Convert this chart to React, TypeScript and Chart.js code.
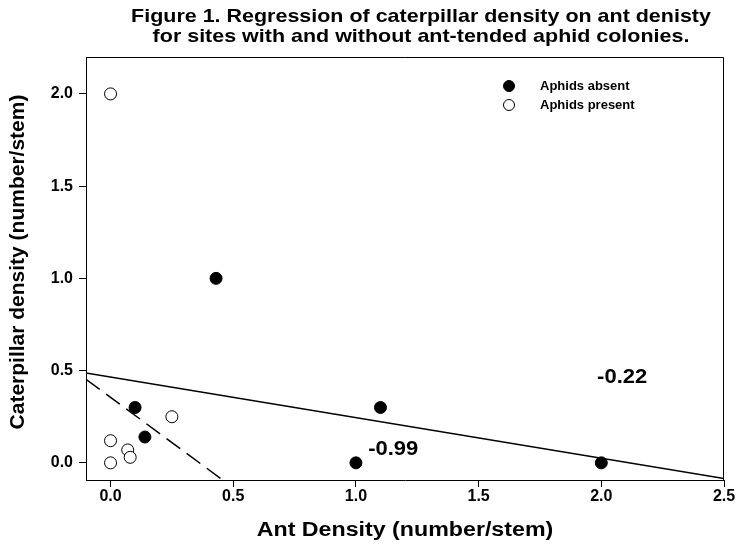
import React, { useEffect, useRef } from "react";
import { Chart, registerables } from "chart.js";

Chart.register(...registerables);

const absentX = [0.43, 0.1, 0.14, 1.1, 1.0, 2.0];
const absentY = [1.0, 0.3, 0.14, 0.3, 0.0, 0.0];
const presentX = [0.0, 0.0, 0.07, 0.08, 0.0, 0.25];
const presentY = [2.0, 0.12, 0.07, 0.03, 0.0, 0.25];

// regression lines: x extent, intercept & slope
const absentLineX = [-0.1, 2.5];
const absentIntercept = 0.465;
const absentSlope = -0.22;
const presentLineX = [-0.1, 0.48];
const presentIntercept = 0.355;
const presentSlope = -0.98;

const xTicks = [0, 0.5, 1.0, 1.5, 2.0, 2.5];
const yTicks = [0, 0.5, 1.0, 1.5, 2.0];

const labelTexts = ["-0.22", "-0.99"];
const labelX = [2.085, 1.152];
const labelY = [0.462, 0.07];

const titleLines = [
  "Figure 1. Regression of caterpillar density on ant denisty",
  "for sites with and without ant-tended aphid colonies.",
];
const legendLabels = ["Aphids absent", "Aphids present"];
const xTitle = "Ant Density (number/stem)";
const yTitle = "Caterpillar density (number/stem)";

const FONT = "Arial, 'Liberation Sans', Helvetica, sans-serif";

function drawText(ctx: any, text: string, x: number, y: number, font: string, sx: number, rot = 0) {
  ctx.save();
  ctx.translate(x, y);
  if (rot) ctx.rotate(rot);
  ctx.scale(sx, 1);
  ctx.font = font;
  ctx.textAlign = "center";
  ctx.textBaseline = "middle";
  ctx.fillStyle = "#000";
  ctx.fillText(text, 0, 0);
  ctx.restore();
}

const overlay = {
  id: "overlay",
  afterDraw(chart: any) {
    const { ctx, chartArea, scales } = chart;
    ctx.save();
    // frame top & right
    ctx.strokeStyle = "#000";
    ctx.lineWidth = 1;
    ctx.beginPath();
    ctx.moveTo(chartArea.left, chartArea.top + 0.5);
    ctx.lineTo(chartArea.right - 0.5, chartArea.top + 0.5);
    ctx.lineTo(chartArea.right - 0.5, chartArea.bottom);
    ctx.stroke();
    // x tick labels at the scale's tick positions
    scales.x.ticks.forEach((t: any) => {
      drawText(ctx, Number(t.value).toFixed(1), scales.x.getPixelForValue(t.value), chartArea.bottom + 17, `bold 16px ${FONT}`, 1);
    });
    // title
    drawText(ctx, titleLines[0], 421, 17, `bold 19px ${FONT}`, 1.13);
    drawText(ctx, titleLines[1], 421, 37, `bold 19px ${FONT}`, 1.13);
    // axis titles
    drawText(ctx, xTitle, (chartArea.left + chartArea.right) / 2, 530, `bold 20px ${FONT}`, 1.16);
    drawText(ctx, yTitle, 18, 262, `bold 21px ${FONT}`, 1, -Math.PI / 2);
    // annotation labels
    labelTexts.forEach((t, i) => {
      drawText(ctx, t, scales.x.getPixelForValue(labelX[i]), scales.y.getPixelForValue(labelY[i]), `bold 20px ${FONT}`, 1.1);
    });
    // legend
    ctx.font = `bold 13px ${FONT}`;
    ctx.textAlign = "left";
    ctx.textBaseline = "middle";
    const ds = chart.data.datasets;
    [0, 1].forEach((i) => {
      const y = 86 + i * 19;
      ctx.beginPath();
      ctx.arc(509, y, 5.5, 0, Math.PI * 2);
      ctx.fillStyle = ds[i].backgroundColor;
      ctx.fill();
      ctx.lineWidth = 1;
      ctx.strokeStyle = "#000";
      ctx.stroke();
      ctx.fillStyle = "#000";
      ctx.fillText(legendLabels[i], 540, y);
    });
    ctx.restore();
  },
};

export default function App() {
  const ref = useRef<HTMLCanvasElement>(null);
  useEffect(() => {
    if (!ref.current) return;
    const chart = new Chart(ref.current, {
      type: "scatter",
      data: {
        datasets: [
          {
            label: legendLabels[0],
            data: absentX.map((x, i) => ({ x, y: absentY[i] })),
            backgroundColor: "#000",
            borderColor: "#000",
            borderWidth: 1,
            pointRadius: 6,
          },
          {
            label: legendLabels[1],
            data: presentX.map((x, i) => ({ x, y: presentY[i] })),
            backgroundColor: "#fff",
            borderColor: "#000",
            borderWidth: 1,
            pointRadius: 6,
          },
          {
            type: "line",
            label: "absent fit",
            data: absentLineX.map((x) => ({ x, y: absentIntercept + absentSlope * x })),
            borderColor: "#000",
            borderWidth: 1.5,
            pointRadius: 0,
            fill: false,
          },
          {
            type: "line",
            label: "present fit",
            data: presentLineX.map((x) => ({ x, y: presentIntercept + presentSlope * x })),
            borderColor: "#000",
            borderWidth: 1.5,
            borderDash: [17, 8],
            pointRadius: 0,
            fill: false,
          },
        ],
      } as any,
      options: {
        responsive: false,
        animation: false,
        layout: { padding: { top: 57, right: 12, left: 0, bottom: 0 } },
        plugins: { legend: { display: false }, title: { display: false }, tooltip: { enabled: false } },
        scales: {
          x: {
            type: "linear",
            min: -0.1,
            max: 2.5,
            afterFit: (s: any) => { s.height = 74; s.paddingRight = 0; s.paddingLeft = 0; },
            afterBuildTicks: (s: any) => { s.ticks = xTicks.map((v) => ({ value: v })); },
            grid: { drawOnChartArea: false, tickLength: 7, color: "#000", tickWidth: 1 },
            border: { color: "#000", width: 1 },
            ticks: { display: false },
            title: { display: false },
          },
          y: {
            type: "linear",
            min: -0.093,
            max: 2.2,
            afterFit: (s: any) => { s.width = 86; s.paddingTop = 0; s.paddingBottom = 0; },
            afterBuildTicks: (s: any) => { s.ticks = yTicks.map((v) => ({ value: v })); },
            grid: { drawOnChartArea: false, tickLength: 7, color: "#000", tickWidth: 1 },
            border: { color: "#000", width: 1 },
            ticks: {
              color: "#000",
              padding: 6,
              font: { family: FONT, size: 16, weight: "bold" },
              callback: (v: any) => Number(v).toFixed(1),
            },
            title: { display: false },
          },
        },
      } as any,
      plugins: [overlay],
    });
    return () => chart.destroy();
  }, []);
  return (
    <div style={{ position: "fixed", left: 0, top: 0, width: 736, height: 554 }}>
      <canvas ref={ref} width={736} height={554} style={{ display: "block" }} />
    </div>
  );
}
